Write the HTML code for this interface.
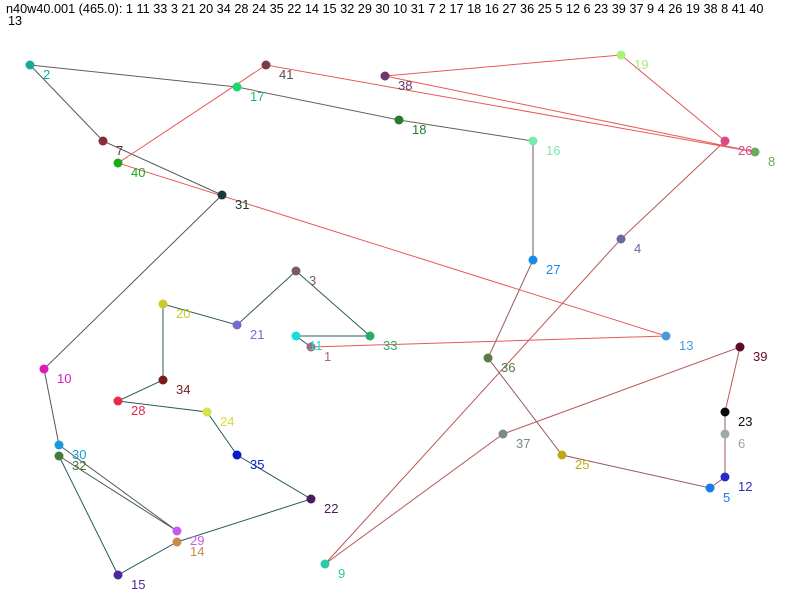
<!DOCTYPE html>
<html><head><meta charset="utf-8"><style>
html,body{margin:0;padding:0;background:#fff;width:800px;height:600px;overflow:hidden}
svg{display:block}
text{font-family:"Liberation Sans",sans-serif;font-size:13px}
</style></head><body>
<svg width="800" height="600" xmlns="http://www.w3.org/2000/svg">
<text x="6" y="13" fill="#000" style="font-size:12.7px">n40w40.001 (465.0): 1 11 33 3 21 20 34 28 24 35 22 14 15 32 29 30 10 31 7 2 17 18 16 27 36 25 5 12 6 23 39 37 9 4 26 19 38 8 41 40</text>
<text x="8" y="25" fill="#000" style="font-size:12.7px">13</text>
<g fill="none" stroke-width="1">
<polyline stroke="#2a5c5c" points="311,347 296,336 370,336 296,271 237,325 163,304 163,380 118,401 207,412 237,455 311,499 177,542 118,575 59,456"/>
<polyline stroke="#4e5a5a" points="59,456 177,531 59,445 44,369 222,195 103,141 30,65"/>
<polyline stroke="#6e5a5a" points="30,65 237,87 399,120 533,141 533,260"/>
<polyline stroke="#985a5a" points="533,260 488,358 562,455 710,488 725,477 725,434 725,412"/>
<polyline stroke="#b55a5a" points="725,412 740,347 503,434 325,564 621,239 725,141"/>
<polyline stroke="#e85858" points="725,141 621,55 385,76 755,152 266,65 118,163 666,336 311,347"/>
</g>
<g>
<circle cx="311" cy="347" r="4.5" fill="#a86a7a"/><text x="324" y="361" fill="#a86a7a">1</text>
<circle cx="30" cy="65" r="4.5" fill="#1aaa9a"/><text x="43" y="79" fill="#1aaa9a">2</text>
<circle cx="296" cy="271" r="4.5" fill="#7a5a6a"/><text x="309" y="285" fill="#7a5a6a">3</text>
<circle cx="621" cy="239" r="4.5" fill="#6a6a9a"/><text x="634" y="253" fill="#6a6a9a">4</text>
<circle cx="710" cy="488" r="4.5" fill="#1a7aea"/><text x="723" y="502" fill="#1a7aea">5</text>
<circle cx="725" cy="434" r="4.5" fill="#9aaaaa"/><text x="738" y="448" fill="#9aaaaa">6</text>
<circle cx="103" cy="141" r="4.5" fill="#8a2a3a"/><text x="116" y="155" fill="#6a2a3a">7</text>
<circle cx="755" cy="152" r="4.5" fill="#6aaa5a"/><text x="768" y="166" fill="#6aaa5a">8</text>
<circle cx="325" cy="564" r="4.5" fill="#2acaaa"/><text x="338" y="578" fill="#2acaaa">9</text>
<circle cx="44" cy="369" r="4.5" fill="#da1aba"/><text x="57" y="383" fill="#da1aba">10</text>
<circle cx="296" cy="336" r="4.5" fill="#1adada"/><text x="309" y="350" fill="#1adada">11</text>
<circle cx="725" cy="477" r="4.5" fill="#2a2aca"/><text x="738" y="491" fill="#2a2aca">12</text>
<circle cx="666" cy="336" r="4.5" fill="#4a9ada"/><text x="679" y="350" fill="#4a9ada">13</text>
<circle cx="177" cy="542" r="4.5" fill="#c88a4a"/><text x="190" y="556" fill="#c88a4a">14</text>
<circle cx="118" cy="575" r="4.5" fill="#4a2a9a"/><text x="131" y="589" fill="#4a2a9a">15</text>
<circle cx="533" cy="141" r="4.5" fill="#7aeaaa"/><text x="546" y="155" fill="#7aeaaa">16</text>
<circle cx="237" cy="87" r="4.5" fill="#1ada6a"/><text x="250" y="101" fill="#1aba6a">17</text>
<circle cx="399" cy="120" r="4.5" fill="#2a7a2a"/><text x="412" y="134" fill="#2a7a2a">18</text>
<circle cx="621" cy="55" r="4.5" fill="#aaf07a"/><text x="634" y="69" fill="#aaea7a">19</text>
<circle cx="163" cy="304" r="4.5" fill="#caca2a"/><text x="176" y="318" fill="#caca2a">20</text>
<circle cx="237" cy="325" r="4.5" fill="#7a6aca"/><text x="250" y="339" fill="#7a6aca">21</text>
<circle cx="311" cy="499" r="4.5" fill="#4a1a5a"/><text x="324" y="513" fill="#4a1a5a">22</text>
<circle cx="725" cy="412" r="4.5" fill="#0a0a0a"/><text x="738" y="426" fill="#0a0a0a">23</text>
<circle cx="207" cy="412" r="4.5" fill="#dae04a"/><text x="220" y="426" fill="#dada3a">24</text>
<circle cx="562" cy="455" r="4.5" fill="#baaa1a"/><text x="575" y="469" fill="#baaa1a">25</text>
<circle cx="725" cy="141" r="4.5" fill="#da4a8a"/><text x="738" y="155" fill="#da4a8a">26</text>
<circle cx="533" cy="260" r="4.5" fill="#1a8aea"/><text x="546" y="274" fill="#1a8aea">27</text>
<circle cx="118" cy="401" r="4.5" fill="#ea2a4a"/><text x="131" y="415" fill="#da2a4a">28</text>
<circle cx="177" cy="531" r="4.5" fill="#ca5aea"/><text x="190" y="545" fill="#ca5aea">29</text>
<circle cx="59" cy="445" r="4.5" fill="#1a9ada"/><text x="72" y="459" fill="#1a9ada">30</text>
<circle cx="222" cy="195" r="4.5" fill="#1a3a3a"/><text x="235" y="209" fill="#1a3a3a">31</text>
<circle cx="59" cy="456" r="4.5" fill="#4a7a3a"/><text x="72" y="470" fill="#4a7a3a">32</text>
<circle cx="370" cy="336" r="4.5" fill="#2aaa6a"/><text x="383" y="350" fill="#2aaa6a">33</text>
<circle cx="163" cy="380" r="4.5" fill="#7a1a1a"/><text x="176" y="394" fill="#7a1a1a">34</text>
<circle cx="237" cy="455" r="4.5" fill="#0a1aca"/><text x="250" y="469" fill="#0a1aca">35</text>
<circle cx="488" cy="358" r="4.5" fill="#5a7a4a"/><text x="501" y="372" fill="#5a7a4a">36</text>
<circle cx="503" cy="434" r="4.5" fill="#7a8a8a"/><text x="516" y="448" fill="#7a8a8a">37</text>
<circle cx="385" cy="76" r="4.5" fill="#6a3a6a"/><text x="398" y="90" fill="#6a3a6a">38</text>
<circle cx="740" cy="347" r="4.5" fill="#5a0a2a"/><text x="753" y="361" fill="#5a0a2a">39</text>
<circle cx="118" cy="163" r="4.5" fill="#1aaa1a"/><text x="131" y="177" fill="#1aaa1a">40</text>
<circle cx="266" cy="65" r="4.5" fill="#7a3a4a"/><text x="279" y="79" fill="#5a4a4a">41</text>
</g>
</svg>
</body></html>
